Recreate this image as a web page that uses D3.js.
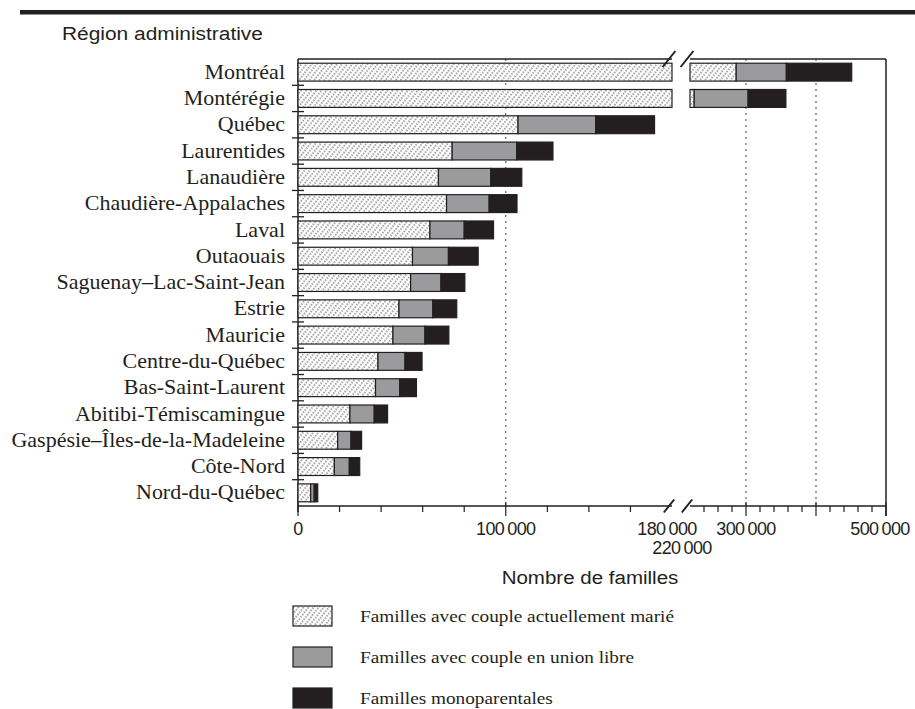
<!DOCTYPE html>
<html>
<head>
<meta charset="utf-8">
<script src="https://cdn.jsdelivr.net/npm/d3@7"></script>
<style>
  body { margin: 0; background: #fff; }
  .serif { font-family: 'Liberation Serif', 'Times New Roman', serif; fill: #231f20; }
  .sans { font-family: 'Liberation Sans', Arial, sans-serif; fill: #231f20; }
</style>
</head>
<body>
<div id="container"></div>
<script>
// DATA (number of families by type and administrative region)
const regions = [
  'Montréal', 'Montérégie', 'Québec', 'Laurentides', 'Lanaudière',
  'Chaudière-Appalaches', 'Laval', 'Outaouais', 'Saguenay–Lac-Saint-Jean',
  'Estrie', 'Mauricie', 'Centre-du-Québec', 'Bas-Saint-Laurent',
  'Abitibi-Témiscamingue', 'Gaspésie–Îles-de-la-Madeleine', 'Côte-Nord',
  'Nord-du-Québec'
]
const maries = [286000, 226000, 105900, 74200, 67600, 71500, 63500, 55100, 54200,
  48600, 45700, 38500, 37300, 25000, 19100, 17500, 6100]
const unionLibre = [71600, 77000, 37400, 31100, 25200, 20500, 16500, 17300, 14600,
  16300, 15400, 13000, 11700, 11700, 6400, 7200, 1700]
const monoparentales = [93400, 54000, 28300, 17400, 14900, 13400, 14100, 14300, 11500,
  11500, 11500, 8200, 8000, 6400, 5100, 5000, 1700]

const series = [
  { key: 'maries', label: 'Familles avec couple actuellement marié' },
  { key: 'union', label: 'Familles avec couple en union libre' },
  { key: 'mono', label: 'Familles monoparentales' }
]

// axis with a break between 180 000 and 220 000
const leftDomain = [0, 180000]
const rightDomain = [220000, 500000]
const majorTicks = [0, 100000, 300000, 400000, 500000]
const minorStep = 20000
const tickLabels = [0, 100000, 180000, 300000, 500000]
const secondLineLabels = [220000]
const gridValues = [100000, 300000, 400000]

const w = 915
const h = 709

const margin = { left: 298, right: 29, top: 59, bottom: 203 }
const plotBottom = h - margin.bottom

const fills = {
  maries: 'url(#hatch)',
  union: '#9b9b9d',
  mono: '#231f20'
}

const table = regions.map((r, i) => ({
  region: r,
  maries: maries[i],
  union: unionLibre[i],
  mono: monoparentales[i]
}))

const stacked = d3.stack().keys(series.map(s => s.key))(table)

//SCALES
const xLeft = d3.scaleLinear()
  .domain(leftDomain)
  .range([margin.left, 672])

const xRight = d3.scaleLinear()
  .domain(rightDomain)
  .range([690, w - margin.right])

const segments = [xLeft, xRight]

const y = d3.scaleBand()
  .domain(regions)
  .range([margin.top, plotBottom])
  .paddingInner(0.32)
  .paddingOuter(0.16)

const fmt = d3.formatLocale({ thousands: '\u2009', grouping: [3], currency: ['', ''], decimal: ',' }).format(',')

const svg = d3.select('#container')
  .append('svg')
  .attr('width', w)
  .attr('height', h)

//PATTERN
const defs = svg.append('defs')
const pattern = defs.append('pattern')
  .attr('id', 'hatch')
  .attr('patternUnits', 'userSpaceOnUse')
  .attr('width', 4)
  .attr('height', 5.6)
  .attr('patternTransform', 'rotate(38)')
pattern.append('rect')
  .attr('width', 4)
  .attr('height', 5.6)
  .attr('fill', '#fff')
pattern.append('line')
  .attr('x1', 1).attr('y1', 0)
  .attr('x2', 1).attr('y2', 5.6)
  .attr('stroke', '#3a3a3a')
  .attr('stroke-width', 1)
  .attr('stroke-dasharray', '1.4 1.4')

//TOP RULE
svg.append('rect')
  .attr('x', 20)
  .attr('y', 10)
  .attr('width', w - 20)
  .attr('height', 4.5)
  .attr('fill', '#231f20')

svg.append('text')
  .attr('class', 'sans')
  .attr('font-size', 19)
  .attr('transform', 'translate(62,39.5) scale(1.1,1)')
  .text('Région administrative')

//GRIDLINES
svg.selectAll('.grid')
  .data(gridValues)
  .enter()
  .append('line')
  .attr('class', 'grid')
  .attr('x1', d => d <= leftDomain[1] ? xLeft(d) : xRight(d))
  .attr('x2', d => d <= leftDomain[1] ? xLeft(d) : xRight(d))
  .attr('y1', margin.top)
  .attr('y2', plotBottom)
  .attr('stroke', '#444')
  .attr('stroke-width', 1)
  .attr('stroke-dasharray', '2 4')

//FRAME
const frame = svg.append('g')
  .attr('stroke', '#231f20')
  .attr('stroke-width', 1.5)
  .attr('fill', 'none')

segments.forEach(sc => {
  frame.append('line')
    .attr('x1', sc.range()[0]).attr('x2', sc.range()[1])
    .attr('y1', margin.top).attr('y2', margin.top)
  frame.append('line')
    .attr('x1', sc.range()[0]).attr('x2', sc.range()[1])
    .attr('y1', plotBottom).attr('y2', plotBottom)
})

frame.append('line')
  .attr('x1', margin.left).attr('x2', margin.left)
  .attr('y1', margin.top).attr('y2', plotBottom + 6)

frame.append('line')
  .attr('x1', xRight.range()[1]).attr('x2', xRight.range()[1])
  .attr('y1', margin.top).attr('y2', plotBottom + 10)

//BARS
const layers = svg.append('g')
  .selectAll('g')
  .data(stacked)
  .enter()
  .append('g')
  .attr('fill', d => fills[d.key])

layers.each(function (layer) {
  const g = d3.select(this)
  layer.forEach(d => {
    segments.forEach(sc => {
      const dom = sc.domain()
      const a = Math.max(d[0], dom[0])
      const b = Math.min(d[1], dom[1])
      if (b <= a) return
      g.append('rect')
        .attr('x', sc(a))
        .attr('y', y(d.data.region))
        .attr('width', sc(b) - sc(a))
        .attr('height', y.bandwidth())
        .attr('stroke', '#231f20')
        .attr('stroke-width', 1.2)
    })
  })
})

//Y TICKS (between categories)
svg.selectAll('.ytick')
  .data(regions.slice(1))
  .enter()
  .append('line')
  .attr('class', 'ytick')
  .attr('x1', margin.left - 6)
  .attr('x2', margin.left + 6)
  .attr('y1', d => y(d) - y.step() * y.paddingInner() / 2)
  .attr('y2', d => y(d) - y.step() * y.paddingInner() / 2)
  .attr('stroke', '#231f20')
  .attr('stroke-width', 1.3)

//Y LABELS
svg.selectAll('.ylabel')
  .data(regions)
  .enter()
  .append('text')
  .attr('class', 'ylabel serif')
  .attr('font-size', 20)
  .attr('text-anchor', 'end')
  .attr('dy', '0.33em')
  .attr('transform', d => `translate(285,${y(d) + y.bandwidth() / 2}) scale(1.1,1)`)
  .text(d => d)

//X TICKS
const xTickVals = []
segments.forEach(sc => {
  const dom = sc.domain()
  for (let v = Math.ceil(dom[0] / minorStep) * minorStep; v <= dom[1]; v += minorStep) {
    if (v === leftDomain[1] || v === rightDomain[0]) continue
    xTickVals.push({ v: v, x: sc(v) })
  }
})

svg.selectAll('.xtick')
  .data(xTickVals)
  .enter()
  .append('line')
  .attr('class', 'xtick')
  .attr('x1', d => d.x)
  .attr('x2', d => d.x)
  .attr('y1', d => majorTicks.includes(d.v) ? plotBottom - 4 : plotBottom)
  .attr('y2', d => majorTicks.includes(d.v) ? plotBottom + 10 : plotBottom + 6)
  .attr('stroke', '#231f20')
  .attr('stroke-width', 1.2)

//BREAK MARKS
const breaks = [leftDomain[1], rightDomain[0]]
const breakX = v => v === leftDomain[1] ? xLeft(v) - 3 : xRight(v) - 3
;[margin.top, plotBottom].forEach((yy, k) => {
  const len = k === 0 ? 8 : 6.5
  svg.selectAll(null)
    .data(breaks)
    .enter()
    .append('line')
    .attr('x1', d => breakX(d) - len * 0.8)
    .attr('x2', d => breakX(d) + len * 0.8)
    .attr('y1', yy + len)
    .attr('y2', yy - len)
    .attr('stroke', '#231f20')
    .attr('stroke-width', 2)
})

//X LABELS
const xPos = v => v <= leftDomain[1] ? xLeft(v) : xRight(v)

svg.selectAll('.xlabel')
  .data(tickLabels)
  .enter()
  .append('text')
  .attr('class', 'xlabel sans')
  .attr('font-size', 18)
  .attr('letter-spacing', -0.6)
  .attr('text-anchor', 'middle')
  .attr('x', d => d === 500000 ? xPos(d) - 6 : d === 180000 ? xPos(d) - 5 : xPos(d))
  .attr('y', 535)
  .text(d => fmt(d))

svg.selectAll('.xlabel2')
  .data(secondLineLabels)
  .enter()
  .append('text')
  .attr('class', 'xlabel2 sans')
  .attr('font-size', 18)
  .attr('letter-spacing', -0.6)
  .attr('text-anchor', 'middle')
  .attr('x', d => xPos(d) - 8)
  .attr('y', 554)
  .text(d => fmt(d))

svg.append('text')
  .attr('class', 'sans')
  .attr('font-size', 19)
  .attr('text-anchor', 'middle')
  .attr('transform', 'translate(590,584) scale(1.08,1)')
  .text('Nombre de familles')

//LEGEND
const legend = svg.selectAll('.legend')
  .data(series)
  .enter()
  .append('g')
  .attr('class', 'legend')
  .attr('transform', (d, i) => `translate(293,${606 + i * 41})`)

legend.append('rect')
  .attr('width', 39)
  .attr('height', 20)
  .attr('fill', d => fills[d.key])
  .attr('stroke', '#231f20')
  .attr('stroke-width', 1.2)

legend.append('text')
  .attr('class', 'serif')
  .attr('font-size', 17.5)
  .attr('transform', 'translate(67,15.5) scale(1.1,1)')
  .text(d => d.label)
</script>
</body>
</html>
